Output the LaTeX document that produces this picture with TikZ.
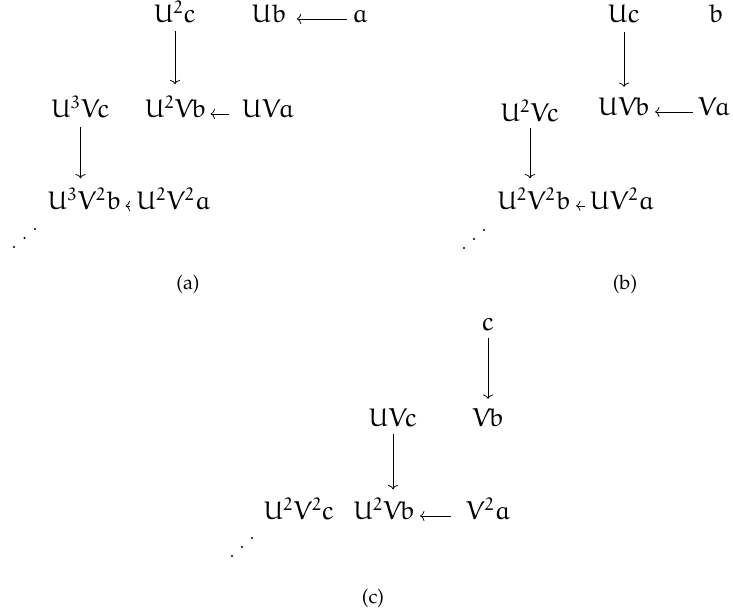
\documentclass[tikz,border=0pt]{standalone}
\DeclareFontFamily{U}{myeur}{}
\DeclareFontShape{U}{myeur}{m}{n}{<-> eurm10}{}
\DeclareMathAlphabet{\mathe}{U}{myeur}{m}{n}
\newcommand{\capfnt}{\fontencoding{T1}\fontfamily{ppl}\fontsize{10.5}{12}\selectfont}
\usetikzlibrary{arrows.meta}
\begin{document}
\begin{tikzpicture}[x=0.5263pt,y=-0.5263pt,
  lbl/.style={inner sep=0pt, anchor=base, font=\fontsize{13.5}{16}\selectfont},
  captxt/.style={inner sep=0pt, anchor=base, font=\capfnt},
  ar/.style={line width=0.4pt, -{Computer Modern Rightarrow[length=2.3pt,width=5.4pt]}},
  dotm/.style={fill=black}]
\useasboundingbox (0,0) rectangle (733,614);
% (a)
\node[lbl] (u2c) at (175,23) {$\mathe{U^2c}$};
\node[lbl] (ub) at (269,23) {$\mathe{Ub}$};
\node[lbl] (a1) at (360,23) {$\mathe{a}$};
\node[lbl] (u3vc) at (80.5,118) {$\mathe{U^3Vc}$};
\node[lbl] (u2vb) at (175.5,118) {$\mathe{U^2Vb}$};
\node[lbl] (uva) at (268,118) {$\mathe{UVa}$};
\node[lbl] (u3v2b) at (84.5,210) {$\mathe{U^3V^2b}$};
\node[lbl] (u2v2a) at (173.5,210) {$\mathe{U^2V^2a}$};
\node[captxt] (capa) at (188,290) {(a)};
\draw[ar, shorten <=2.63pt, shorten >=5.26pt] (a1.mid west) -- (ub.mid east);
\draw[ar, shorten <=6.8pt, shorten >=2.1pt] (uva.mid west) -- (u2vb.mid east);
\draw[ar, shorten <=3.2pt, shorten >=2.1pt] (u2v2a.mid west) -- (u3v2b.mid east);
\draw[ar, shorten <=4.2pt, shorten >=5.8pt] (u2c.south) -- (u2c.south |- u2vb.north);
\draw[ar, shorten <=4.7pt, shorten >=4.7pt] (u3vc.south) -- (u3vc.south |- u3v2b.north);
\fill[dotm] (14,247) circle[radius=0.65pt];
\fill[dotm] (24.5,238) circle[radius=0.65pt];
\fill[dotm] (35,229) circle[radius=0.65pt];
% (b)
\node[lbl] (uc) at (624,23) {$\mathe{Uc}$};
\node[lbl] (b1) at (716,23) {$\mathe{b}$};
\node[lbl] (u2vc) at (530,122) {$\mathe{U^2Vc}$};
\node[lbl] (uvb) at (624,116) {$\mathe{UVb}$};
\node[lbl] (va) at (714,116) {$\mathe{Va}$};
\node[lbl] (u2v2b) at (534,210) {$\mathe{U^2V^2b}$};
\node[lbl] (uv2a) at (622,210) {$\mathe{UV^2a}$};
\node[captxt] (capb) at (625,290) {(b)};
\draw[ar, shorten <=2.63pt, shorten >=2.63pt] (va.mid west) -- (uvb.mid east);
\draw[ar, shorten <=2.63pt, shorten >=2.63pt] (uv2a.mid west) -- (u2v2b.mid east);
\draw[ar, shorten <=4.7pt, shorten >=5.8pt] (uc.south) -- (uc.south |- uvb.north);
\draw[ar, shorten <=3.2pt, shorten >=4.7pt] (u2vc.south) -- (u2vc.south |- u2v2b.north);
\fill[dotm] (464,248) circle[radius=0.65pt];
\fill[dotm] (474,239) circle[radius=0.65pt];
\fill[dotm] (484,230) circle[radius=0.65pt];
% (c)
\node[lbl] (c1) at (488,331) {$\mathe{c}$};
\node[lbl] (uvc) at (393,427) {$\mathe{UVc}$};
\node[lbl] (vb) at (488,427) {$\mathe{Vb}$};
\node[lbl] (u2v2c) at (299,520) {$\mathe{U^2V^2c}$};
\node[lbl] (u2vbc) at (384,520) {$\mathe{U^2Vb}$};
\node[lbl] (v2a) at (488,520) {$\mathe{V^2a}$};
\node[captxt] (capc) at (373,604) {(c)};
\draw[ar, shorten <=7.89pt, shorten >=2.63pt] (v2a.mid west) -- (u2vbc.mid east);
\draw[ar, shorten <=3.68pt, shorten >=5.3pt] (c1.south) -- (c1.south |- vb.north);
\draw[ar, shorten <=3.68pt, shorten >=4.2pt] (uvc.south) -- (uvc.south |- u2vbc.north);
\fill[dotm] (232,556) circle[radius=0.65pt];
\fill[dotm] (242,547) circle[radius=0.65pt];
\fill[dotm] (252,538) circle[radius=0.65pt];
\end{tikzpicture}
\end{document}
